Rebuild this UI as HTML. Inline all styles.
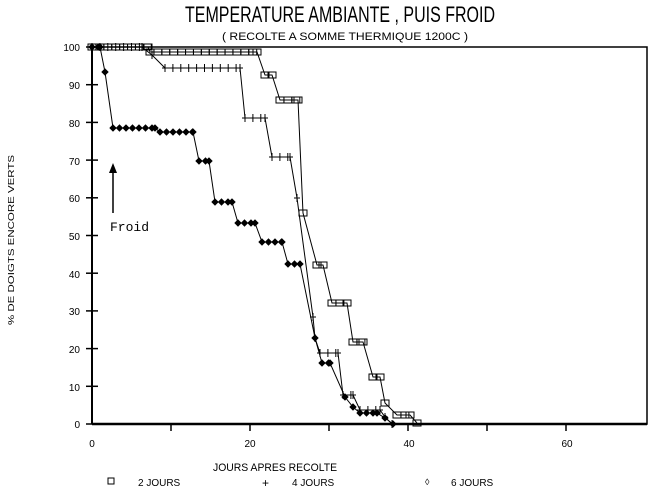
<!DOCTYPE html>
<html><head><meta charset="utf-8"><style>
html,body{margin:0;padding:0;background:#fff;}
svg{display:block;font-family:"Liberation Sans",sans-serif;}
</style></head><body>
<svg id="s" width="651" height="493" viewBox="0 0 651 493" xmlns="http://www.w3.org/2000/svg">
<rect width="651" height="493" fill="#fff"/>
<text x="340" y="22" font-size="22" text-anchor="middle" textLength="310" lengthAdjust="spacingAndGlyphs">TEMPERATURE AMBIANTE , PUIS FROID</text>
<text x="345" y="40" font-size="11" text-anchor="middle" textLength="246" lengthAdjust="spacingAndGlyphs">( RECOLTE A SOMME THERMIQUE 1200C )</text>
<g stroke="#000" fill="none">
<polyline points="92,47 647,47 647,424 92,424" stroke-width="1.5"/>
<line x1="92" y1="47" x2="92" y2="424" stroke-width="2"/>
<line x1="92" y1="424" x2="647" y2="424" stroke-width="2.5"/>
</g>
<g id="ticks" stroke="#000" stroke-width="1.5"></g>
<g font-size="10" text-anchor="end">
<text x="80" y="51">100</text><text x="80" y="89">90</text><text x="80" y="127">80</text><text x="80" y="165">70</text><text x="80" y="202">60</text><text x="80" y="240">50</text><text x="80" y="278">40</text><text x="80" y="315">30</text><text x="80" y="353">20</text><text x="80" y="391">10</text><text x="80" y="428">0</text>
</g>
<g font-size="10" text-anchor="middle">
<text x="92" y="447">0</text><text x="250" y="447">20</text><text x="409" y="447">40</text><text x="567" y="447">60</text>
</g>
<text x="275" y="471" font-size="11" text-anchor="middle" textLength="124" lengthAdjust="spacingAndGlyphs">JOURS APRES RECOLTE</text>
<text transform="translate(14,240) rotate(-90)" font-size="8" text-anchor="middle" textLength="170" lengthAdjust="spacingAndGlyphs">% DE DOIGTS ENCORE VERTS</text>
<g font-size="10">
<rect x="108" y="478" width="6" height="6" fill="none" stroke="#000"/>
<text x="138" y="486">2 JOURS</text>
<text x="262" y="487" font-size="12">+</text>
<text x="292" y="486">4 JOURS</text>
<text x="425" y="485" font-size="9">◊</text>
<text x="451" y="486">6 JOURS</text>
</g>
<text x="110" y="231" font-family="Liberation Mono,monospace" font-size="13">Froid</text>
<line x1="113" y1="213" x2="113" y2="168" stroke="#000" stroke-width="1.5"/>
<polygon points="113,163 109,173 117,173" fill="#000"/>
<g id="series" stroke="#000" stroke-width="1" fill="none"></g>
</svg>
<script>
var NS="http://www.w3.org/2000/svg";
function el(t,a,p){var e=document.createElementNS(NS,t);for(var k in a)e.setAttribute(k,a[k]);p.appendChild(e);return e;}
var tk=document.getElementById('ticks');
for(var i=0;i<=10;i++){var y=47+i*37.7;el('line',{x1:86,y1:y,x2:98,y2:y},tk);}
for(var i=1;i<=6;i++){var x=92+i*79;el('line',{x1:x,y1:424,x2:x,y2:431},tk);}
var g=document.getElementById('series');
function poly(pts){el('polyline',{points:pts.map(function(p){return p.join(',')}).join(' ')},g);}
function fill(pts,step){var out=[];for(var i=0;i<pts.length-1;i++){var a=pts[i],b=pts[i+1];if(a[1]==b[1]){for(var x=a[0];x<=b[0]+0.1;x+=step)out.push([x,a[1]]);}else out.push(a);}out.push(pts[pts.length-1]);return out;}
var dia=[[92,47],[100,47],[105,72],[113,128],[155,128],[160,132],[193,132],[199,161],[209,161],[215,202],[232,202],[238,223],[255,223],[262,242],[282,242],[288,264],[300,264],[315,338],[322,363],[330,363],[345,397],[353,407],[360,413],[377,413],[385,418],[393,424]];
var plus=[[92,47],[142,47],[152,55],[165,68],[240,68],[245,118],[265,118],[272,157],[290,157],[297,198],[313,317],[315,338],[320,353],[338,353],[343,395],[353,395],[360,410],[380,410],[385,417],[392,424]];
var sq=[[92,47],[148,47],[150,52],[257,52],[265,75],[272,75],[280,100],[298,100],[303,213],[317,265],[323,265],[332,303],[347,303],[353,342],[363,342],[373,377],[380,377],[385,403],[397,415],[410,415],[417,423]];
poly(dia);poly(plus);poly(sq);
fill(dia,6.5).forEach(function(p){el('polygon',{points:[p[0],p[1]-3,p[0]+3,p[1],p[0],p[1]+3,p[0]-3,p[1]].join(' '),fill:'#000'},g);});
fill(plus,7.9).forEach(function(p){el('path',{d:'M'+(p[0]-3)+' '+p[1]+'h6M'+p[0]+' '+(p[1]-4)+'v8'},g);});
fill(sq,7.9).forEach(function(p){el('rect',{x:p[0]-4,y:p[1]-3,width:8,height:6},g);});
</script>
</body></html>
